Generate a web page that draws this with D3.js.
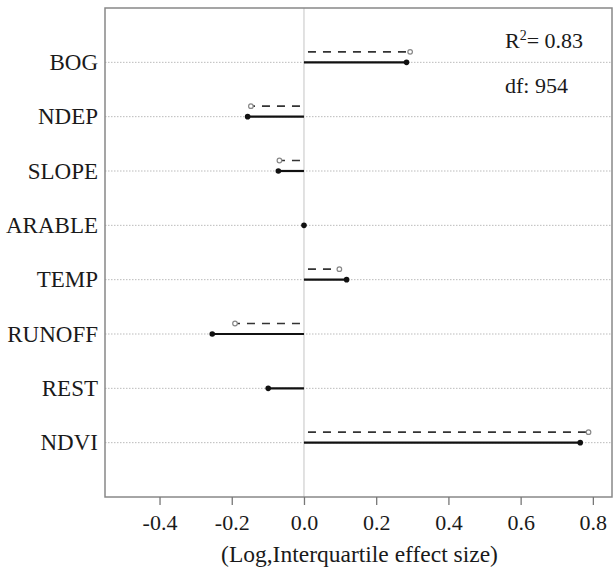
<!DOCTYPE html>
<html>
<head>
<meta charset="utf-8">
<script src="https://cdn.jsdelivr.net/npm/d3@7"></script>
<style>
  html, body { margin: 0; padding: 0; background: #fff; }
  svg { display: block; }
  svg text { font-family: "Liberation Serif", "Times New Roman", serif !important; fill: #1a1a1a; }
</style>
</head>
<body>
<div id="chart"></div>
<script>
// ---- data ----
const variables = ["BOG", "NDEP", "SLOPE", "ARABLE", "TEMP", "RUNOFF", "REST", "NDVI"];
const effectFull = [0.284, -0.156, -0.071, 0.0, 0.118, -0.254, -0.099, 0.765];
const effectAlt = [0.294, -0.147, -0.068, null, 0.098, -0.191, null, 0.788];
const xTicks = [-0.4, -0.2, 0.0, 0.2, 0.4, 0.6, 0.8];
const statsText = ["R²= 0.83", "df: 954"];
const xTitle = "(Log,Interquartile effect size)";

// ---- layout ----
const W = 613, H = 572;
const pLeft = 105, pRight = 612, pTop = 8, pBottom = 497;
const altOffset = 10.5;

const svg = d3.select("#chart").append("svg").attr("width", W).attr("height", H);

const x = d3.scaleLinear().domain([-0.551, 0.853]).range([pLeft, pRight]);
const y = d3.scaleLinear().domain([0, 9]).range([pTop, pBottom]);

// gridlines
svg.append("g").selectAll("line").data(variables).join("line")
  .attr("x1", pLeft).attr("x2", pRight)
  .attr("y1", (d, i) => y(i + 1)).attr("y2", (d, i) => y(i + 1))
  .attr("stroke", "#bbb").attr("stroke-width", 1).attr("stroke-dasharray", "1.5,1.5");

// zero line
svg.append("line")
  .attr("x1", x(0)).attr("x2", x(0)).attr("y1", pTop).attr("y2", pBottom)
  .attr("stroke", "#d8d8d8").attr("stroke-width", 1.5);

// alternative (dashed) segments
const alt = variables.map((v, i) => ({ v, i, val: effectAlt[i] })).filter(d => d.val !== null);
svg.append("g").selectAll("line").data(alt).join("line")
  .attr("x1", x(0)).attr("x2", d => x(d.val))
  .attr("y1", d => y(d.i + 1) - altOffset).attr("y2", d => y(d.i + 1) - altOffset)
  .attr("stroke", "#333").attr("stroke-width", 1.7).attr("stroke-dasharray", "8,7")
  .attr("stroke-dashoffset", -4);
svg.append("g").selectAll("circle").data(alt).join("circle")
  .attr("cx", d => x(d.val)).attr("cy", d => y(d.i + 1) - altOffset)
  .attr("r", 2.3).attr("fill", "#fff").attr("stroke", "#888").attr("stroke-width", 1.2);

// full (solid) segments
const full = variables.map((v, i) => ({ v, i, val: effectFull[i] }));
svg.append("g").selectAll("line").data(full).join("line")
  .attr("x1", x(0)).attr("x2", d => x(d.val))
  .attr("y1", d => y(d.i + 1)).attr("y2", d => y(d.i + 1))
  .attr("stroke", "#111").attr("stroke-width", 2.2);
svg.append("g").selectAll("circle").data(full).join("circle")
  .attr("cx", d => x(d.val)).attr("cy", d => y(d.i + 1))
  .attr("r", 2.8).attr("fill", "#111");

// frame
svg.append("rect")
  .attr("x", pLeft).attr("y", pTop).attr("width", pRight - pLeft).attr("height", pBottom - pTop)
  .attr("fill", "none").attr("stroke", "#888").attr("stroke-width", 1.5);

// x axis
const fmt = d3.format(".1f");
const xAxis = d3.axisBottom(x).tickValues(xTicks)
  .tickFormat(d => fmt(d).replace("\u2212", "-")).tickSize(8).tickPadding(9);
const gx = svg.append("g").attr("transform", `translate(0,${pBottom})`).call(xAxis);
gx.select(".domain").remove();
gx.selectAll(".tick line").attr("stroke", "#777").attr("stroke-width", 1.3);
gx.selectAll(".tick text").attr("font-size", 22).attr("fill", "#1a1a1a");

// y labels
svg.append("g").selectAll("text").data(variables).join("text")
  .attr("x", 98).attr("y", (d, i) => y(i + 1)).attr("dy", "0.34em")
  .attr("text-anchor", "end").attr("font-size", 23).text(d => d);

// stats
const s1 = svg.append("text").attr("x", 505).attr("y", 47.5).attr("font-size", 22);
s1.append("tspan").text("R");
s1.append("tspan").attr("font-size", 14).attr("dy", -8).text("2");
s1.append("tspan").attr("dy", 8).text("= 0.83");
svg.append("text").attr("x", 505).attr("y", 92.5).attr("font-size", 22).text(statsText[1]);

// x title
svg.append("text").attr("x", (pLeft + pRight) / 2 + 1).attr("y", 562)
  .attr("text-anchor", "middle").attr("font-size", 23.5).text(xTitle);
</script>
</body>
</html>
